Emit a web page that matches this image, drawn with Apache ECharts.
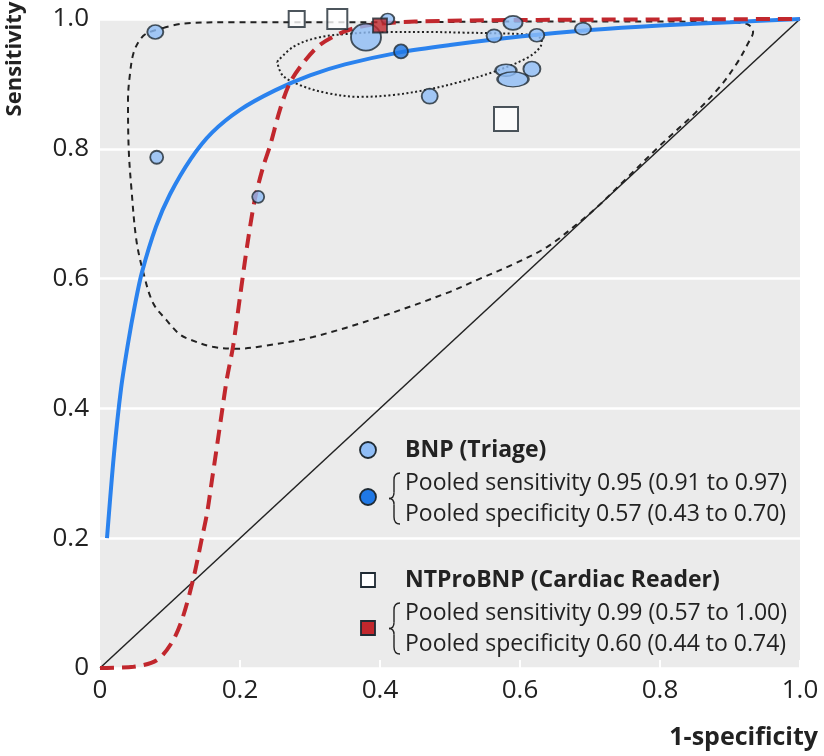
<!DOCTYPE html>
<html>
<head>
<meta charset="utf-8">
<script src="https://cdn.jsdelivr.net/npm/echarts@6/dist/echarts.min.js"></script>
<style>
html,body{margin:0;padding:0;background:#fff;}
#chart{width:824px;height:756px;}
</style>
</head>
<body>
<div id="chart"></div>
<script>
// ---------- DATA ----------
const axisTickValues = [0, 0.2, 0.4, 0.6, 0.8, 1.0];
const axisTickLabels = ['0', '0.2', '0.4', '0.6', '0.8', '1.0'];

// BNP (Triage) individual studies: 1-specificity, sensitivity
const bnpStudyFpr  = [0.079, 0.081, 0.226, 0.380, 0.411, 0.471, 0.563, 0.590, 0.624, 0.580, 0.617, 0.590, 0.690];
const bnpStudySens = [0.980, 0.787, 0.726, 0.972, 1.000, 0.881, 0.974, 0.994, 0.975, 0.921, 0.923, 0.907, 0.985];

// NTProBNP (Cardiac Reader) individual studies
const ntStudyFpr  = [0.281, 0.339, 0.580];
const ntStudySens = [1.000, 1.000, 0.846];

// Pooled estimates [1-specificity, sensitivity]
const bnpPooled = [0.43, 0.95];
const ntPooled  = [0.40, 0.99];

// BNP summary ROC curve
const bnpCurveFpr  = [0.010, 0.020, 0.030, 0.040, 0.050, 0.060, 0.080, 0.100, 0.130, 0.160, 0.200, 0.250, 0.300, 0.350, 0.430, 0.500, 0.600, 0.700, 0.800, 0.900, 1.000];
const bnpCurveSens = [0.200, 0.330, 0.430, 0.500, 0.560, 0.610, 0.680, 0.730, 0.785, 0.825, 0.860, 0.890, 0.913, 0.930, 0.949, 0.960, 0.973, 0.983, 0.990, 0.995, 1.000];

// NTProBNP summary ROC curve
const ntCurveFpr  = [0.000, 0.048, 0.081, 0.102, 0.117, 0.133, 0.145, 0.153, 0.160, 0.167, 0.174, 0.181, 0.190, 0.200, 0.210, 0.221, 0.233, 0.243, 0.257, 0.271, 0.290, 0.314, 0.343, 0.371, 0.400, 0.450, 0.550, 0.700, 1.000];
const ntCurveSens = [0.000, 0.002, 0.012, 0.038, 0.074, 0.136, 0.197, 0.239, 0.290, 0.341, 0.393, 0.444, 0.495, 0.572, 0.649, 0.721, 0.772, 0.805, 0.860, 0.901, 0.932, 0.960, 0.978, 0.988, 0.993, 0.996, 0.998, 0.999, 1.000];

// BNP 95% prediction region (dashed outline)
const predRegionFpr  = [0.090, 0.119, 0.190, 0.280, 0.400, 0.600, 0.800, 0.900, 0.925, 0.933, 0.926, 0.910, 0.885, 0.850, 0.800, 0.750, 0.710, 0.686, 0.639, 0.590, 0.543, 0.496, 0.400, 0.304, 0.233, 0.196, 0.161, 0.129, 0.114, 0.095, 0.076, 0.062, 0.052, 0.045, 0.041, 0.040, 0.043, 0.048, 0.057, 0.067, 0.090];
const predRegionSens = [0.986, 0.993, 0.995, 0.995, 0.995, 0.996, 0.996, 0.995, 0.992, 0.980, 0.963, 0.932, 0.895, 0.855, 0.805, 0.752, 0.710, 0.688, 0.649, 0.622, 0.600, 0.578, 0.541, 0.510, 0.496, 0.492, 0.495, 0.506, 0.514, 0.536, 0.562, 0.609, 0.659, 0.737, 0.800, 0.875, 0.917, 0.948, 0.968, 0.978, 0.986];

// BNP 95% confidence region (dotted ellipse)
const confRegionFpr  = [0.253, 0.276, 0.310, 0.353, 0.410, 0.467, 0.520, 0.561, 0.610, 0.631, 0.629, 0.610, 0.561, 0.514, 0.467, 0.419, 0.371, 0.324, 0.286, 0.261, 0.253];
const confRegionSens = [0.934, 0.957, 0.971, 0.977, 0.980, 0.980, 0.979, 0.978, 0.976, 0.968, 0.957, 0.940, 0.918, 0.903, 0.891, 0.883, 0.880, 0.886, 0.898, 0.913, 0.934];

// Chance line
const diagFpr  = [0, 1];
const diagSens = [0, 1];

// Legend texts
const legendTitles = ['BNP (Triage)', 'NTProBNP (Cardiac Reader)'];
const legendLines = [
  ['Pooled sensitivity 0.95 (0.91 to 0.97)', 'Pooled specificity 0.57 (0.43 to 0.70)'],
  ['Pooled sensitivity 0.99 (0.57 to 1.00)', 'Pooled specificity 0.60 (0.44 to 0.74)']
];
const xAxisTitle = '1-specificity';
const yAxisTitle = 'Sensitivity';

// ---------- STYLE ----------
const bnpMarkerSizes = [[16,14],[13,13],[12,12],[30,27],[13,11],[16,15],[15,13],[19,14],[15,13],[21,12],[17,15],[31,15],[16,12]];
const ntMarkerSizes = [16, 20, 24];
const C = {
  bg: '#ebebeb', text: '#222222', edge: '#1f2a33',
  light: '#8fbdf6', dark: '#1f78e6', curve: '#2a82ee', red: '#c1272d'
};
const FONT = "'Open Sans', sans-serif";

function zip(a, b) { return a.map((v, i) => [v, b[i]]); }

const chart = echarts.init(document.getElementById('chart'), null, {renderer: 'canvas'});

const gridL = 100, gridT = 19, gridR = 24, gridB = 88;

const option = {
  animation: false,
  grid: {left: gridL, top: gridT, right: gridR, bottom: gridB, show: true, backgroundColor: C.bg, borderWidth: 0},
  xAxis: {
    type: 'value', min: 0, max: 1, interval: 0.2,
    axisLine: {show: false},
    axisTick: {show: true, inside: true, length: 8, lineStyle: {color: '#ffffff', width: 2}},
    splitLine: {show: false},
    axisLabel: {
      margin: 10, color: C.text, fontFamily: FONT, fontSize: 26,
      formatter: v => { const i = axisTickValues.findIndex(t => Math.abs(t - v) < 1e-6); return i >= 0 ? axisTickLabels[i] : ''; }
    }
  },
  yAxis: {
    type: 'value', min: 0, max: 1, interval: 0.2,
    axisLine: {show: false}, axisTick: {show: false},
    splitLine: {show: true, lineStyle: {color: '#ffffff', width: 2.5}},
    axisLabel: {
      margin: 11, color: C.text, fontFamily: FONT, fontSize: 26,
      formatter: v => { const i = axisTickValues.findIndex(t => Math.abs(t - v) < 1e-6); return i >= 0 ? axisTickLabels[i] : ''; }
    }
  },
  series: [
    {type: 'line', data: zip(diagFpr, diagSens), symbol: 'none', z: 2, silent: true,
     lineStyle: {color: C.text, width: 1.5}},
    {type: 'line', data: zip(predRegionFpr, predRegionSens), symbol: 'none', smooth: 0.35, z: 3, silent: true,
     lineStyle: {color: C.text, width: 2, type: [6, 5]}},
    {type: 'line', data: zip(confRegionFpr, confRegionSens), symbol: 'none', smooth: 0.35, z: 3, silent: true,
     lineStyle: {color: C.text, width: 2, type: [2, 2.5]}},
    {type: 'line', data: zip(bnpCurveFpr, bnpCurveSens), symbol: 'none', smooth: 0.3, z: 4, silent: true,
     lineStyle: {color: C.curve, width: 4}},
    {type: 'line', data: zip(ntCurveFpr, ntCurveSens), symbol: 'none', smooth: 0.3, z: 5, silent: true,
     lineStyle: {color: C.red, width: 4, type: [14, 8]}},
    {type: 'scatter', clip: false, z: 6,
     data: bnpStudyFpr.map((x, i) => ({value: [x, bnpStudySens[i]], symbolSize: bnpMarkerSizes[i]})),
     symbol: 'circle', itemStyle: {color: C.light, borderColor: C.edge, borderWidth: 1.8}},
    {type: 'scatter', clip: false, z: 7,
     data: ntStudyFpr.map((x, i) => ({value: [x, ntStudySens[i]], symbolSize: ntMarkerSizes[i]})),
     symbol: 'rect', itemStyle: {color: '#ffffff', borderColor: C.edge, borderWidth: 2}},
    {type: 'scatter', clip: false, z: 8, data: [bnpPooled], symbol: 'circle', symbolSize: 14,
     itemStyle: {color: C.dark, borderColor: C.edge, borderWidth: 1.8}},
    {type: 'scatter', clip: false, z: 8, data: [ntPooled], symbol: 'rect', symbolSize: 14,
     itemStyle: {color: C.red, borderColor: C.edge, borderWidth: 1.8}}
  ],
  graphic: []
};

// legend and axis titles as graphic elements
function brace(x, yTop, yBot) {
  const m = (yTop + yBot) / 2;
  const st = {stroke: C.text, lineWidth: 1.4, fill: null};
  return [
    {type: 'bezierCurve', z: 100, shape: {x1: x + 6, y1: yTop, cpx1: x, cpy1: yTop, x2: x, y2: yTop + 7}, style: st},
    {type: 'line', z: 100, shape: {x1: x, y1: yTop + 7, x2: x, y2: m - 6}, style: st},
    {type: 'bezierCurve', z: 100, shape: {x1: x, y1: m - 6, cpx1: x, cpy1: m, x2: x - 5, y2: m}, style: st},
    {type: 'bezierCurve', z: 100, shape: {x1: x - 5, y1: m, cpx1: x, cpy1: m, x2: x, y2: m + 6}, style: st},
    {type: 'line', z: 100, shape: {x1: x, y1: m + 6, x2: x, y2: yBot - 7}, style: st},
    {type: 'bezierCurve', z: 100, shape: {x1: x, y1: yBot - 7, cpx1: x, cpy1: yBot, x2: x + 6, y2: yBot}, style: st}
  ];
}
const g = option.graphic;
const lx = 368, tx = 405;
const blocks = [
  {titleY: 450, markY: 497, l1: 483, l2: 514},
  {titleY: 580, markY: 628, l1: 613, l2: 644}
];
blocks.forEach((b, k) => {
  if (k === 0) {
    g.push({type: 'circle', shape: {cx: lx, cy: b.titleY, r: 8}, style: {fill: C.light, stroke: C.edge, lineWidth: 1.8}, z: 100});
    g.push({type: 'circle', shape: {cx: lx, cy: b.markY, r: 8}, style: {fill: C.dark, stroke: C.edge, lineWidth: 1.8}, z: 100});
  } else {
    g.push({type: 'rect', shape: {x: lx - 7, y: b.titleY - 7, width: 14, height: 14}, style: {fill: '#fff', stroke: C.edge, lineWidth: 1.8}, z: 100});
    g.push({type: 'rect', shape: {x: lx - 7, y: b.markY - 7, width: 14, height: 14}, style: {fill: C.red, stroke: C.edge, lineWidth: 1.8}, z: 100});
  }
  g.push({type: 'text', x: tx, y: b.titleY, z: 100, style: {text: legendTitles[k], font: `bold 23px ${FONT}`, fill: C.text, textVerticalAlign: 'middle'}});
  g.push({type: 'text', x: tx, y: b.l1, z: 100, style: {text: legendLines[k][0], font: `23px ${FONT}`, fill: C.text, textVerticalAlign: 'middle'}});
  g.push({type: 'text', x: tx, y: b.l2, z: 100, style: {text: legendLines[k][1], font: `23px ${FONT}`, fill: C.text, textVerticalAlign: 'middle'}});
  brace(394, b.l1 - 10, b.l2 + 10).forEach(e => g.push(e));
});
g.push({type: 'text', x: 818, y: 738, z: 100, style: {text: xAxisTitle, font: `bold 25px ${FONT}`, fill: C.text, textAlign: 'right', textVerticalAlign: 'middle'}});
g.push({type: 'text', x: 15, y: 59, rotation: Math.PI / 2, z: 100, style: {text: yAxisTitle, font: `bold 22px ${FONT}`, fill: C.text, textAlign: 'center', textVerticalAlign: 'middle'}});

chart.setOption(option);
</script>
</body>
</html>
